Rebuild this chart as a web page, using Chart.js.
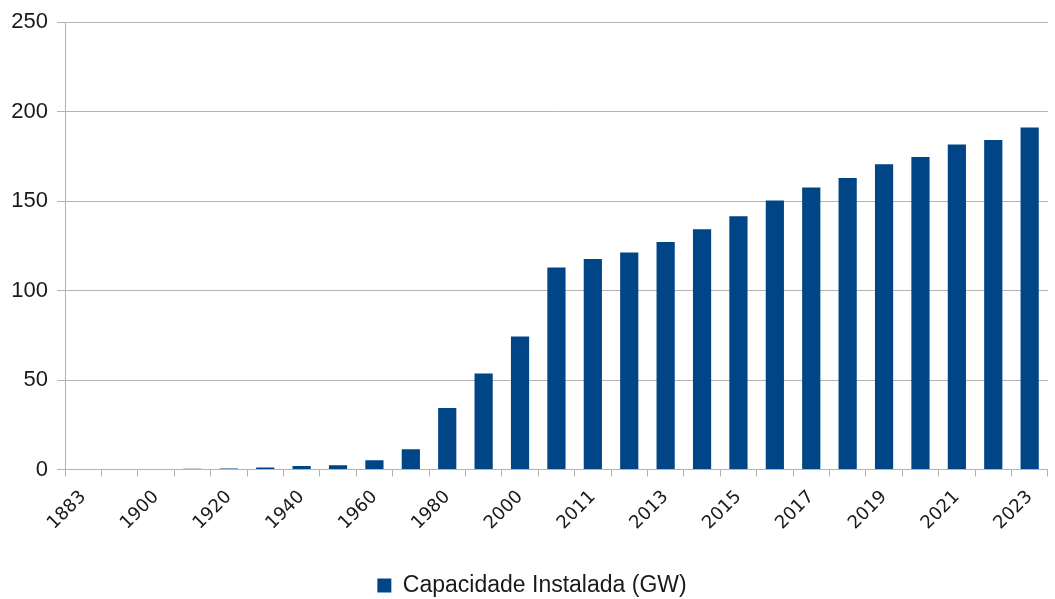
<!DOCTYPE html>
<html>
<head>
<meta charset="utf-8">
<script src="https://cdn.jsdelivr.net/npm/chart.js@4/dist/chart.umd.min.js"></script>
<style>
  html, body { margin: 0; padding: 0; background: #fff; }
  #wrap { width: 1055px; height: 599px; }
</style>
</head>
<body>
<div id="wrap"><canvas id="capChart" width="1055" height="599"></canvas></div>
<script>
// years (only every other one is labelled on the axis)
const years = ['1883', '1890', '1900', '1910', '1920', '1930', '1940', '1950', '1960', '1970',
               '1980', '1990', '2000', '2010', '2011', '2012', '2013', '2014', '2015', '2016',
               '2017', '2018', '2019', '2020', '2021', '2022', '2023'];
// installed capacity in GW
const capacityGW = [0, 0, 0, 0.4, 0.5, 1.1, 2.0, 2.4, 5.2, 11.3,
                    34.4, 53.7, 74.4, 112.9, 117.6, 121.3, 127.2, 134.3, 141.5, 150.3,
                    157.6, 162.9, 170.6, 174.6, 181.6, 184.2, 191.1];
const yTicks = [0, 50, 100, 150, 200, 250];
const seriesName = 'Capacidade Instalada (GW)';

const gridColor = '#b3b3b3';
const textColor = '#1a1a1a';

const ctx = document.getElementById('capChart').getContext('2d');
const capChart = new Chart(ctx, {
    type: 'bar',
    data: {
        labels: years,
        datasets: [{
            label: seriesName,
            data: capacityGW,
            backgroundColor: '#004586',
            borderWidth: 0,
            categoryPercentage: 1.0,
            barPercentage: 0.5
        }]
    },
    options: {
        responsive: false,
        animation: false,
        layout: {
            // extra left padding nudges the centred legend to the right
            padding: { left: 12, right: 3, top: 20, bottom: -8 }
        },
        scales: {
            x: {
                grid: {
                    display: true,
                    drawOnChartArea: false,
                    drawTicks: true,
                    tickLength: 7,
                    color: gridColor,
                    offset: true
                },
                border: { color: gridColor, width: 1 },
                ticks: {
                    autoSkip: false,
                    minRotation: 45,
                    maxRotation: 45,
                    padding: 10,
                    color: textColor,
                    font: { family: 'DejaVu Sans', size: 18 },
                    callback: function(value, index) {
                        return index % 2 === 0 ? years[index] : '';
                    }
                },
                afterFit: function(scale) {
                    scale.height = 104.5;
                }
            },
            y: {
                min: 0,
                max: 250,
                afterBuildTicks: function(scale) {
                    scale.ticks = yTicks.map(v => ({ value: v }));
                },
                grid: {
                    color: gridColor,
                    tickLength: 8,
                    drawTicks: true
                },
                border: { color: gridColor, width: 1 },
                ticks: {
                    padding: 9,
                    color: textColor,
                    font: { family: 'Liberation Sans', size: 22 }
                },
                afterFit: function(scale) {
                    scale.width = 53;
                }
            }
        },
        plugins: {
            legend: {
                position: 'bottom',
                labels: {
                    boxWidth: 14,
                    boxHeight: 14,
                    padding: 0,
                    color: textColor,
                    font: { family: 'Liberation Sans', size: 23 }
                }
            },
            tooltip: { enabled: false }
        }
    }
});
</script>
</body>
</html>
